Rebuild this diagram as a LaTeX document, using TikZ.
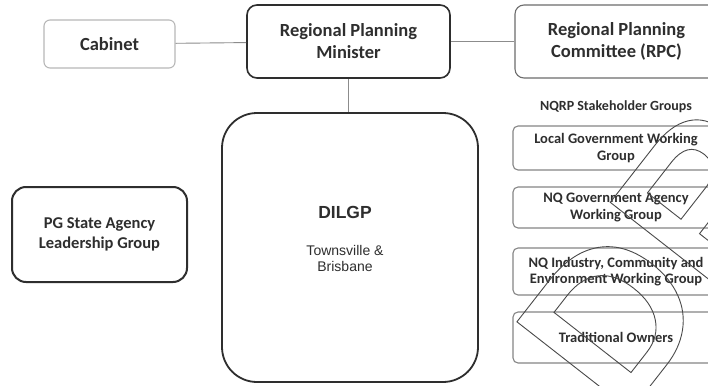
\documentclass[tikz,border=0pt]{standalone}
\usepackage{fontspec}
\setmainfont{Carlito}
\newfontfamily\arialfont{Liberation Sans}
\usetikzlibrary{positioning}
\definecolor{Ink}{HTML}{2E2E2E}
\definecolor{Edge}{HTML}{858585}
\definecolor{Pale}{HTML}{B8B8B8}
\definecolor{Wire}{HTML}{8C8C8C}
\definecolor{Mark}{HTML}{4A4A4A}
\newcommand\bigtxt{\fontsize{18.5}{22}\selectfont\bfseries}
\tikzset{
 box/.style={draw=Edge,line width=1.1pt,rounded corners=5pt,align=center,text=Ink,font=\bigtxt,inner sep=0pt},
 lead/.style={box,draw=Ink,line width=1.6pt,rounded corners=10pt},
 grp/.style={box,minimum width=206pt,font=\fontsize{14.5}{16.5}\selectfont\bfseries},
 link/.style={draw=Wire,line width=0.9pt},
 wm/.style={text=Mark,inner sep=0pt,font=\arialfont\fontsize{210}{210}\selectfont\bfseries}
}
\newcommand\outline[1]{\special{pdf:literal direct 1 Tr 0.9 w}#1\special{pdf:literal direct 0 Tr}}

\begin{document}
\begin{tikzpicture}[x=1pt,y=-1pt]
\useasboundingbox[fill=white] (0,0) rectangle (708,385);
% top row
\node[box,draw=Pale,minimum width=131pt,minimum height=48pt,rounded corners=6pt] (cab) at (109.5,44) {Cabinet};
\node[lead,minimum width=203pt,minimum height=73pt] (min) at (348.5,41.5) {Regional Planning\\Minister};
\node[box,draw=Edge!120,minimum width=203pt,minimum height=73pt,rounded corners=9pt] (rpc) at (616.5,41.5) {Regional Planning\\Committee (RPC)};
\draw[link] (cab) -- (min);
\draw[link] (min) -- (rpc);
% departments
\node[lead,line width=1.8pt,minimum width=256pt,minimum height=269pt,rounded corners=35pt] (dil) at (350,247.5) {};
\node[text=Ink,font=\arialfont\fontsize{17.5}{20}\selectfont\bfseries,inner sep=0pt] (dilt) at (345,212.5) {DILGP};
\node[text=Ink,font=\arialfont\fontsize{14}{16.5}\selectfont,align=center,inner sep=0pt] (dils) at (345,258.5) {Townsville \&\\Brisbane};
\draw[link] (min.south) -- (min.south |- dil.north);
\node[lead,line width=2pt,minimum width=175pt,minimum height=95pt,rounded corners=14pt,font=\fontsize{16.5}{20}\selectfont\bfseries] (pg) at (99.5,234.5) {PG State Agency\\Leadership Group};
% stakeholder groups
\node[text=Ink,font=\fontsize{14}{16}\selectfont\bfseries,inner sep=0pt] (nqrp) at (616,107) {NQRP Stakeholder Groups};
\node[grp,minimum height=44pt] (lg) at (616,148) {Local Government Working\\Group};
\node[grp,minimum height=41pt] (nga) at (616,207.5) {NQ Government Agency\\Working Group};
\node[grp,minimum height=47pt] (nqi) at (616,271.5) {NQ Industry, Community and\\Environment Working Group};
\node[grp,minimum height=51pt] (to) at (616,337.5) {Traditional Owners};
% watermark
\node[wm,rotate=52,anchor=base west] (draft) at (622,422) {\outline{DRAFT}};
\end{tikzpicture}
\end{document}
